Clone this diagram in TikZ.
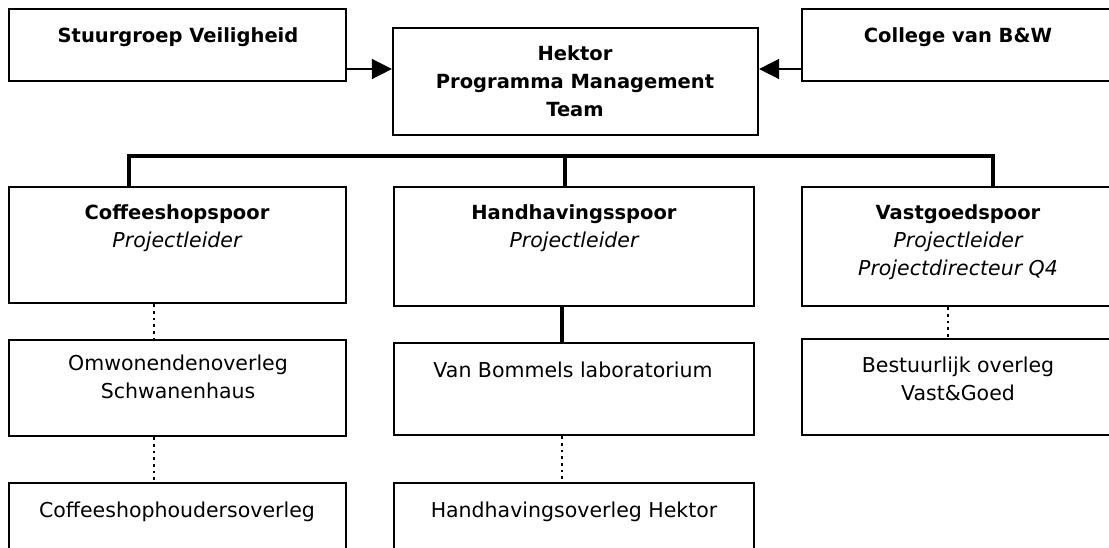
\documentclass[tikz,border=0pt]{standalone}
\usepackage{fontspec}
\setmainfont{DejaVu Sans}
\usetikzlibrary{arrows.meta}
\newcommand\bldtxt[1]{{\fontsize{19.5}{28}\selectfont\bfseries #1}}
\newcommand\ittxt[1]{{\fontsize{20.5}{28}\selectfont\itshape #1}}
\begin{document}
\begin{tikzpicture}[x=1pt,y=-1pt,
  box/.style 2 args={draw, line width=2.2pt, rectangle, inner sep=0pt, minimum width=#1, minimum height=#2},
  lbl/.style={anchor=north, inner sep=0pt, align=center, font=\fontsize{20.5}{28}\selectfont},
  arr/.style={line width=1.5pt, -{Triangle[length=20pt,width=20pt]}},
  bus/.style={line width=3.5pt},
  dots/.style={line width=2.8pt, dash pattern=on 2.8pt off 3.9pt},
  solidlink/.style={line width=3.5pt}]
\useasboundingbox[fill=white] (0,0) rectangle (1109,547);

% top row
\node[box={337}{72}] (stuur) at (177.5,45) {};
\node[lbl] (stuurT) at (178,27) {\bldtxt{Stuurgroep Veiligheid}};
\node[box={365}{107}] (hek) at (575.5,81.5) {};
\node[lbl] (hekT) at (575,45) {\bldtxt{Hektor}\\\bldtxt{Programma Management}\\\bldtxt{Team}};
\node[box={312}{72}] (coll) at (958,45) {};
\node[lbl] (collT) at (958,27) {\bldtxt{College van B\&W}};

\draw[arr] ([yshift=-24pt]stuur.east) -- ([yshift=-24pt]stuur.east -| hek.west);
\draw[arr] ([yshift=-24pt]coll.west) -- ([yshift=-24pt]coll.west -| hek.east);

% middle row
\node[box={337}{116}] (coff) at (177.5,245) {};
\node[lbl] (coffT) at (177,204) {\bldtxt{Coffeeshopspoor}\\\ittxt{Projectleider}};
\node[box={360}{119}] (handh) at (574,246.5) {};
\node[lbl] (handhT) at (574,204) {\bldtxt{Handhavingsspoor}\\\ittxt{Projectleider}};
\node[box={312}{119}] (vast) at (958,246.5) {};
\node[lbl] (vastT) at (958,204) {\bldtxt{Vastgoedspoor}\\\ittxt{Projectleider}\\\ittxt{Projectdirecteur Q4}};

% bus
\coordinate (busL) at (129,156);
\coordinate (busM) at (565,156);
\coordinate (busR) at (993,156);
\draw[bus] (coff.north -| busL) -- (busL) -- (busR) -- (vast.north -| busR);
\draw[bus] (busM) -- (handh.north -| busM);

% lower rows
\node[box={337}{96}] (omw) at (177.5,388) {};
\node[lbl] (omwT) at (178,355) {Omwonendenoverleg\\Schwanenhaus};
\node[box={337}{80}] (hou) at (177.5,523) {};
\node[lbl] (houT) at (177,502) {Coffeeshophoudersoverleg};

\node[box={360}{92}] (vanb) at (574,389) {};
\node[lbl] (vanbT) at (573,362) {Van Bommels laboratorium};
\node[box={360}{80}] (hho) at (574,523) {};
\node[lbl] (hhoT) at (574,502) {Handhavingsoverleg Hektor};

\node[box={312}{96}] (best) at (958,387) {};
\node[lbl] (bestT) at (958,357) {Bestuurlijk overleg\\Vast\&Goed};

% connectors
\draw[dots] ([xshift=-23.5pt]coff.south) -- ([xshift=-23.5pt]omw.north);
\draw[dots] ([xshift=-23.5pt]omw.south) -- ([xshift=-23.5pt]hou.north);
\draw[solidlink] ([xshift=-12pt]handh.south) -- ([xshift=-12pt]vanb.north);
\draw[dots] ([xshift=-12pt]vanb.south) -- ([xshift=-12pt]hho.north);
\draw[dots] ([xshift=-10pt]vast.south) -- ([xshift=-10pt]best.north);
\end{tikzpicture}
\end{document}
